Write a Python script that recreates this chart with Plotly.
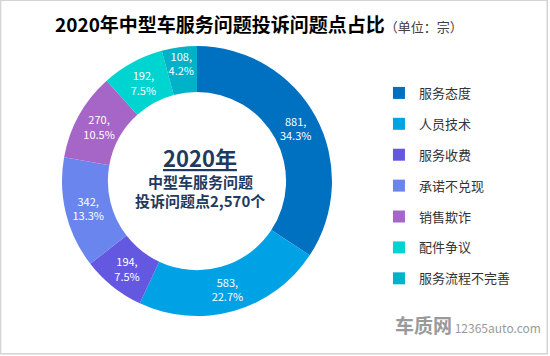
import plotly.graph_objects as go

categories = ["服务态度", "人员技术", "服务收费", "承诺不兑现", "销售欺诈", "配件争议", "服务流程不完善"]
values = [881, 583, 194, 342, 270, 192, 108]
colors = ["#0070C0", "#00A2E6", "#6558E0", "#6A86EE", "#A566C8", "#00D4D0", "#00B2C8"]

title_main = "2020年中型车服务问题投诉问题点占比"
title_unit = "（单位：宗）"
center_year = "2020年"
center_l2 = "中型车服务问题"
center_l3 = "投诉问题点2,570个"

FONT = "Noto Sans CJK SC"

fig = go.Figure()
fig.add_trace(go.Pie(
    labels=categories, values=values, sort=False, direction="clockwise", rotation=0,
    hole=0.66, marker=dict(colors=colors, line=dict(width=0)),
    texttemplate="%{value},<br>%{percent:.1%}", textposition="inside",
    insidetextorientation="horizontal",
    textfont=dict(color="white", size=11, family=FONT),
    showlegend=False, domain=dict(x=[0.1127, 0.6036], y=[0.112, 0.871]),
    hoverinfo="label+value+percent",
))

for i, (c, col) in enumerate(zip(categories, colors)):
    fig.add_trace(go.Scatter(
        x=[None], y=[None], mode="markers", name=c, legendgroup=f"g{i}",
        marker=dict(symbol="square", size=11, color=col), showlegend=True,
    ))

fig.update_layout(
    width=550, height=356, margin=dict(l=0, r=0, t=0, b=0),
    paper_bgcolor="white", plot_bgcolor="white",
    font=dict(family=FONT, color="#333333"),
    uniformtext=dict(minsize=11, mode="show"),
    xaxis=dict(visible=False), yaxis=dict(visible=False),
    legend=dict(x=0.689, y=0.781, xanchor="left", yanchor="top",
                font=dict(size=13, color="#333333", family=FONT),
                tracegroupgap=11, itemsizing="constant", bgcolor="rgba(0,0,0,0)"),
    shapes=[dict(type="rect", xref="paper", yref="paper", x0=0.001, y0=0.006, x1=0.995, y1=0.999,
                 line=dict(color="#D4D4D4", width=1.5))],
    annotations=[
        dict(x=0.47, y=0.935, xref="paper", yref="paper", showarrow=False, xanchor="center", yanchor="middle",
             text=f"<b>{title_main}</b><span style='font-size:13px;color:#404040'>{title_unit}</span>",
             font=dict(size=19, color="#000000", family=FONT)),
        dict(x=0.364, y=1 - 157 / 356, xref="paper", yref="paper", showarrow=False,
             text=f"<b><u>{center_year}</u></b>", font=dict(size=22, color="#1F3A60", family=FONT)),
        dict(x=0.364, y=1 - 181 / 356, xref="paper", yref="paper", showarrow=False,
             text=f"<b>{center_l2}</b>", font=dict(size=15, color="#1F3A60", family=FONT)),
        dict(x=0.364, y=1 - 200 / 356, xref="paper", yref="paper", showarrow=False,
             text=f"<b>{center_l3}</b>", font=dict(size=15, color="#1F3A60", family=FONT)),
        dict(x=0.988, y=1 - 340 / 356, xref="paper", yref="paper", showarrow=False, xanchor="right",
             text="<b><span style='font-size:19px'>车质网</span></b> 12365auto.com",
             font=dict(size=12, color="#9A9A9A", family=FONT)),
    ],
)

fig.write_html("out.html", config={"displayModeBar": False},
               post_script="document.body.style.margin='0';document.body.style.overflow='hidden';")
